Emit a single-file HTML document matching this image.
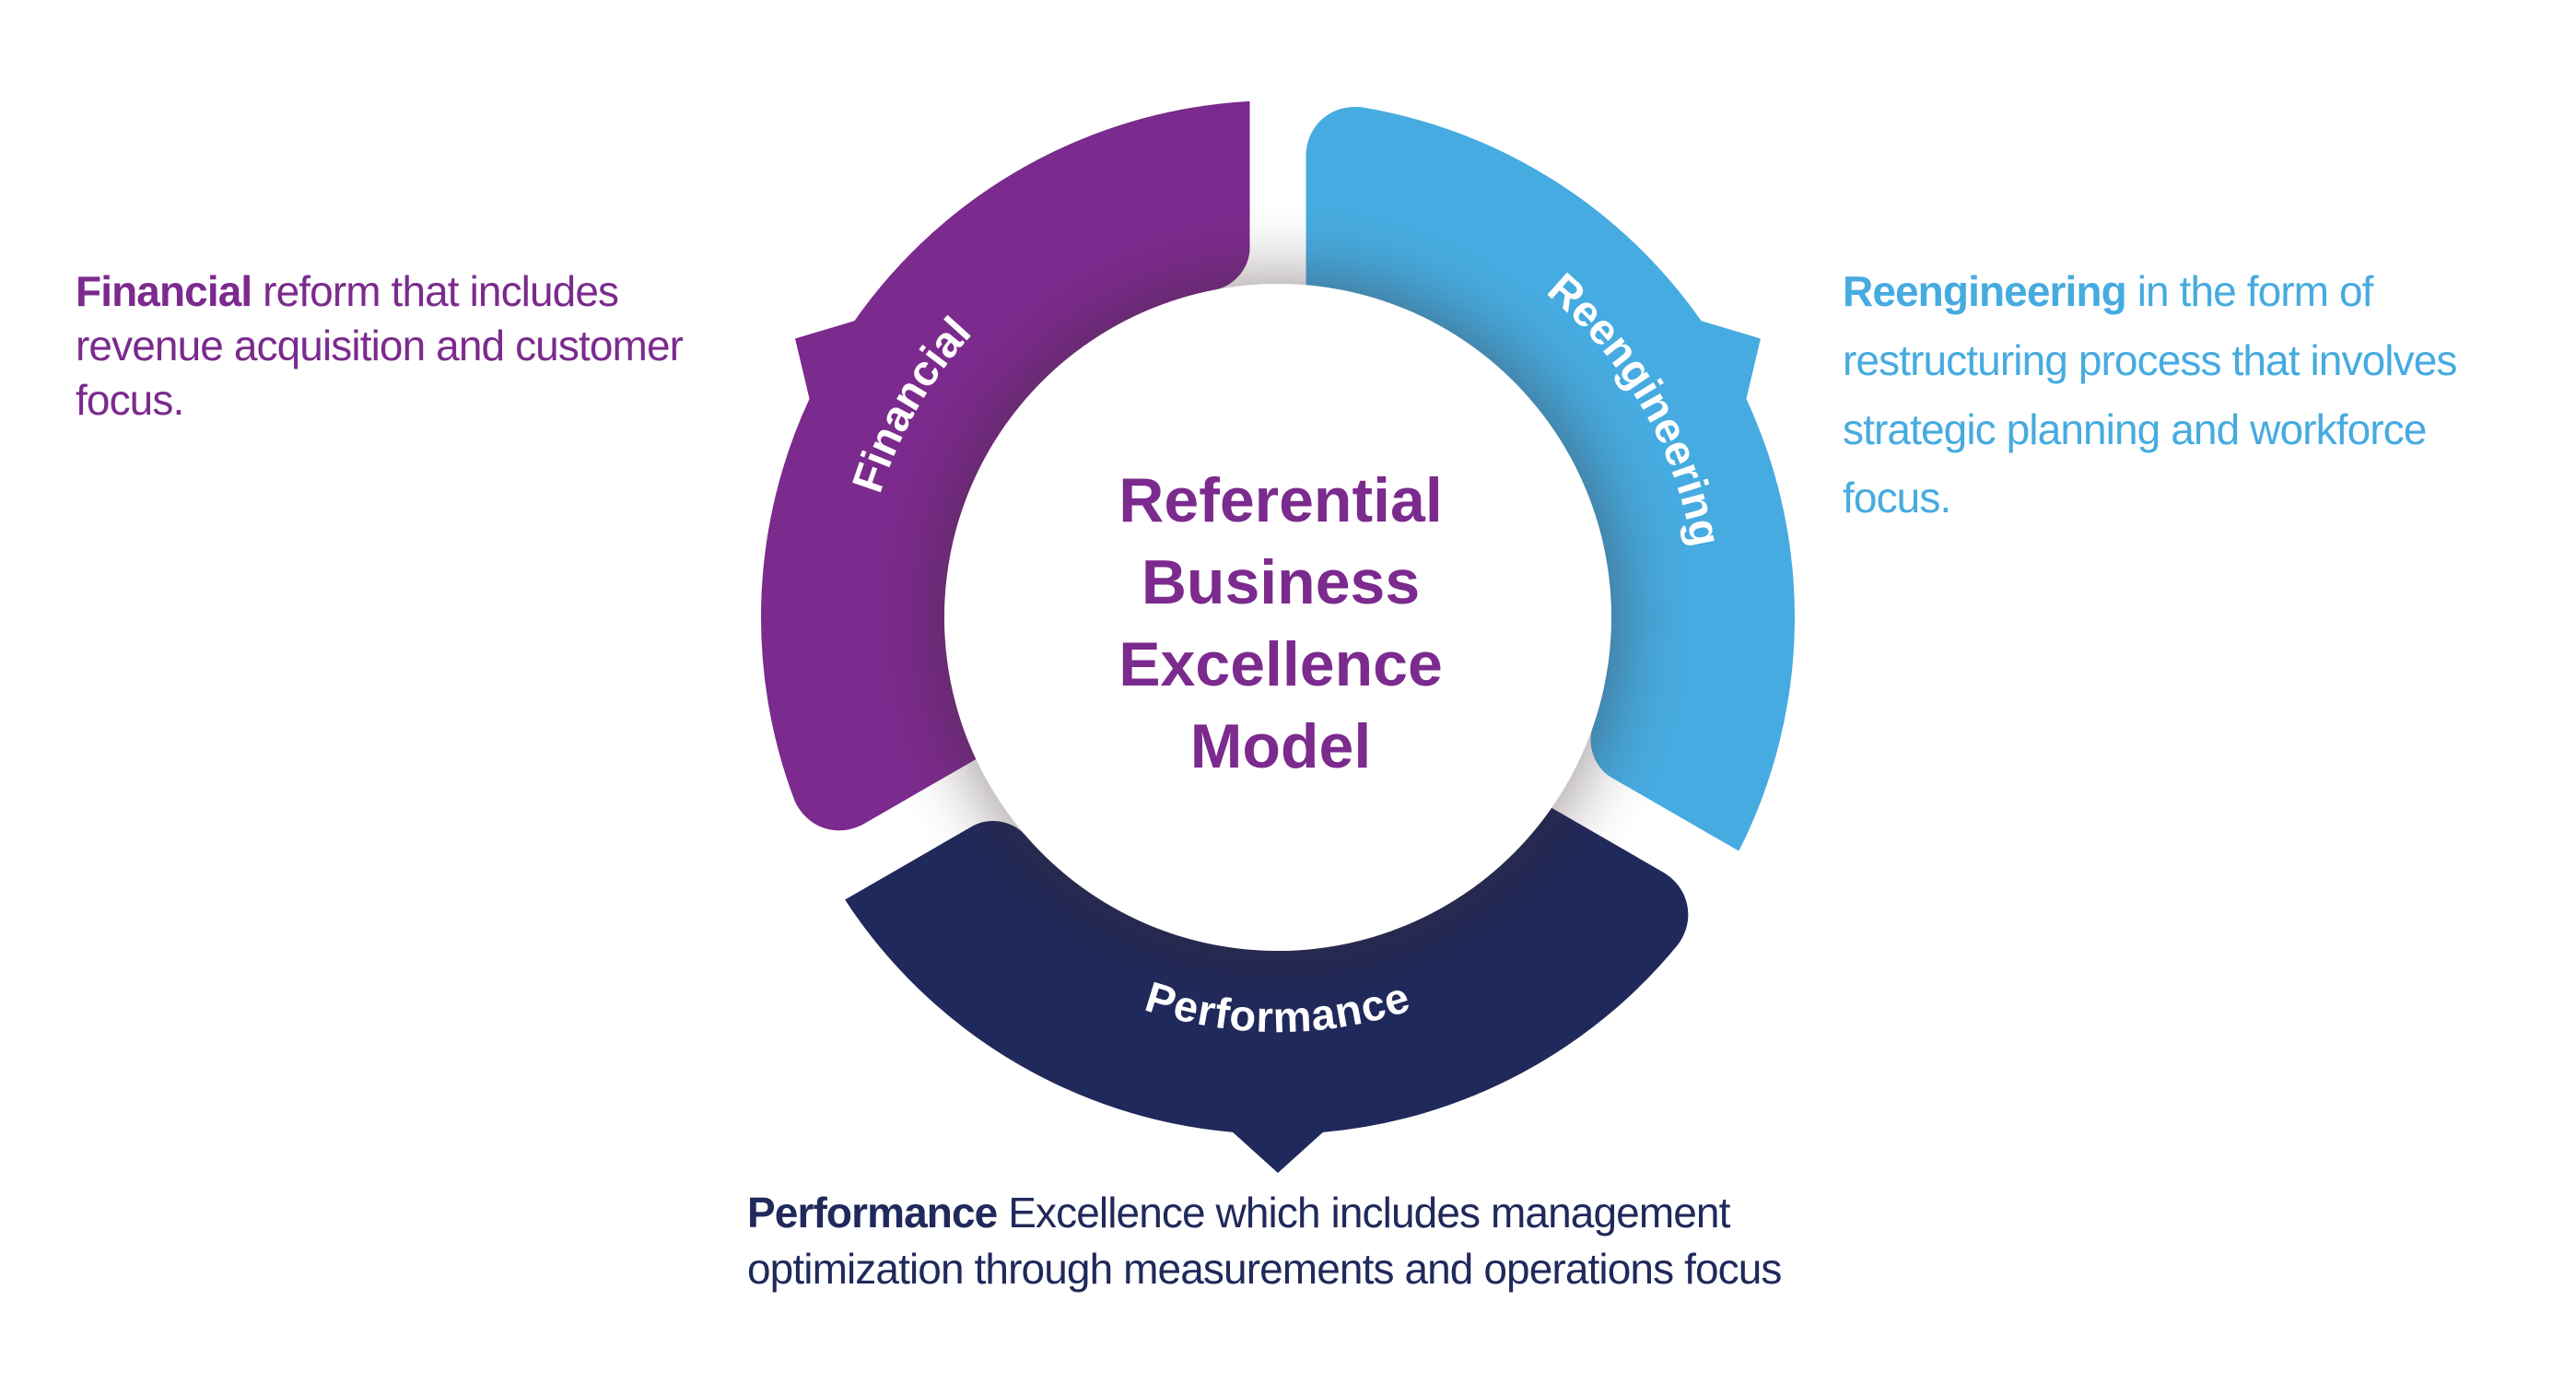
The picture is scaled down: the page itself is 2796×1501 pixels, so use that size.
<!DOCTYPE html>
<html>
<head>
<meta charset="utf-8">
<style>
  html, body { margin: 0; padding: 0; background: #ffffff; }
  body { width: 2796px; height: 1501px; overflow: hidden; }
  svg { display: block; }
  .p { font-family: "Liberation Sans", Arial, sans-serif; font-size: 46px; letter-spacing: -0.9px; }
  .b { font-weight: bold; }
  .lbl { font-family: "Liberation Sans", Arial, sans-serif; font-size: 47px; font-weight: bold; fill: #ffffff; }
  .title { font-family: "Liberation Sans", Arial, sans-serif; font-size: 68px; font-weight: bold; fill: #7b2a8d; }
</style>
</head>
<body>
<svg width="2796" height="1501" viewBox="0 0 2796 1501" xmlns="http://www.w3.org/2000/svg">
  <defs>
    <radialGradient id="shadow" gradientUnits="userSpaceOnUse" cx="1387" cy="670" r="450">
      <stop offset="0" stop-color="#3a2a2a" stop-opacity="0.28"/>
      <stop offset="0.80" stop-color="#3a2a2a" stop-opacity="0.28"/>
      <stop offset="0.84" stop-color="#3a2a2a" stop-opacity="0.19"/>
      <stop offset="0.89" stop-color="#3a2a2a" stop-opacity="0.09"/>
      <stop offset="0.94" stop-color="#3a2a2a" stop-opacity="0.03"/>
      <stop offset="1" stop-color="#3a2a2a" stop-opacity="0"/>
    </radialGradient>
    <path id="finPath" d="M 941.87 748.49 A 452 452 0 0 1 1232.41 245.26"/>
    <path id="reePath" d="M 1542.96 241.50 A 456 456 0 0 1 1836.07 749.18"/>
    <path id="perfPath" d="M 997.29 895 A 450 450 0 0 0 1776.71 895"/>
  </defs>

  <!-- Financial segment -->
  <path fill="#7b2a8d" d="M 1059.37 823.95 L 938.60 893.68 C 909.92 910.24 875.81 899.04 862.39 868.76 A 561 561 0 0 1 878.56 432.91 L 863.05 367.5 L 927.46 348.22 A 561 561 0 0 1 1356.5 109.83 L 1356.5 269.29 C 1356.5 291.37 1338.77 311.78 1316.93 314.85 A 362 362 0 0 0 1059.37 823.95 Z"/>

  <!-- Reengineering segment -->
  <path fill="#46abe0" d="M 1417.5 309.29 L 1417.5 169.83 C 1417.5 136.71 1444.23 112.72 1477.17 116.29 A 561 561 0 0 1 1846.54 348.22 L 1910.95 367.5 L 1895.44 432.91 A 561 561 0 0 1 1887.36 923.68 L 1749.27 843.95 C 1730.15 832.91 1721.34 807.35 1729.61 786.89 A 362 362 0 0 0 1417.5 309.29 Z"/>

  <!-- Performance segment -->
  <path fill="#20295b" d="M 1684.13 876.77 L 1804.90 946.50 C 1833.58 963.06 1840.99 998.20 1821.43 1024.94 A 561 561 0 0 1 1435.89 1228.86 L 1387 1273 L 1338.11 1228.86 A 561 561 0 0 1 917.14 976.50 L 1055.23 896.77 C 1074.35 885.73 1100.88 890.86 1114.44 908.23 A 362 362 0 0 0 1684.13 876.77 Z"/>

  <!-- shadow around the center circle -->
  <circle cx="1387" cy="670" r="450" fill="url(#shadow)"/>

  <!-- center white circle -->
  <circle cx="1387" cy="670" r="362" fill="#ffffff"/>

  <!-- segment labels -->
  <text class="lbl"><textPath href="#finPath" startOffset="50%" text-anchor="middle">Financial</textPath></text>
  <text class="lbl"><textPath href="#reePath" startOffset="50%" text-anchor="middle">Reengineering</textPath></text>
  <text class="lbl" style="letter-spacing:1px"><textPath href="#perfPath" startOffset="50%" text-anchor="middle">Performance</textPath></text>

  <!-- center title -->
  <text class="title" x="1390" y="566" text-anchor="middle">Referential</text>
  <text class="title" x="1390" y="655" text-anchor="middle">Business</text>
  <text class="title" x="1390" y="744" text-anchor="middle">Excellence</text>
  <text class="title" x="1390" y="833" text-anchor="middle">Model</text>

  <!-- Financial description -->
  <text class="p" fill="#7b2a8d" x="82" y="332"><tspan class="b">Financial</tspan> reform that includes</text>
  <text class="p" fill="#7b2a8d" x="82" y="391">revenue acquisition and customer</text>
  <text class="p" fill="#7b2a8d" x="82" y="450">focus.</text>

  <!-- Reengineering description -->
  <text class="p" fill="#46abe0" x="2000" y="332"><tspan class="b">Reengineering</tspan> in the form of</text>
  <text class="p" fill="#46abe0" x="2000" y="407">restructuring process that involves</text>
  <text class="p" fill="#46abe0" x="2000" y="482">strategic planning and workforce</text>
  <text class="p" fill="#46abe0" x="2000" y="556">focus.</text>

  <!-- Performance description -->
  <text class="p" fill="#20295b" x="811" y="1332"><tspan class="b">Performance</tspan> Excellence which includes management</text>
  <text class="p" fill="#20295b" x="811" y="1393">optimization through measurements and operations focus</text>
</svg>
</body>
</html>
